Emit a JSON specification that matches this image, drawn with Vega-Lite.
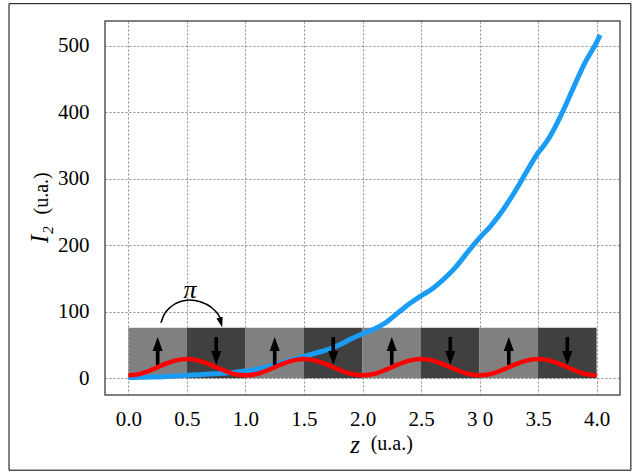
{
  "$schema": "https://vega.github.io/schema/vega-lite/v6.json",
  "width": 515,
  "height": 374,
  "autosize": "none",
  "padding": {"left": 105, "top": 21, "right": 15, "bottom": 78},
  "background": "white",
  "config": {
    "view": {"stroke": "#555555", "strokeWidth": 1.5},
    "font": "Liberation Serif"
  },
  "datasets": {
    "segments": [
      {"z0": 0.0, "z1": 0.5, "zc": 0.25, "spin": "up"},
      {"z0": 0.5, "z1": 1.0, "zc": 0.75, "spin": "down"},
      {"z0": 1.0, "z1": 1.5, "zc": 1.25, "spin": "up"},
      {"z0": 1.5, "z1": 2.0, "zc": 1.75, "spin": "down"},
      {"z0": 2.0, "z1": 2.5, "zc": 2.25, "spin": "up"},
      {"z0": 2.5, "z1": 3.0, "zc": 2.75, "spin": "down"},
      {"z0": 3.0, "z1": 3.5, "zc": 3.25, "spin": "up"},
      {"z0": 3.5, "z1": 4.0, "zc": 3.75, "spin": "down"}
    ],
    "red": [
      {"z": 0.0, "v": 4.5}, {"z": 0.1, "v": 6.8}, {"z": 0.2, "v": 13.0}, {"z": 0.3, "v": 20.5}, {"z": 0.4, "v": 26.7},
      {"z": 0.5, "v": 29.0}, {"z": 0.6, "v": 26.7}, {"z": 0.7, "v": 20.5}, {"z": 0.8, "v": 13.0}, {"z": 0.9, "v": 6.8},
      {"z": 1.0, "v": 4.5}, {"z": 1.1, "v": 6.8}, {"z": 1.2, "v": 13.0}, {"z": 1.3, "v": 20.5}, {"z": 1.4, "v": 26.7},
      {"z": 1.5, "v": 29.0}, {"z": 1.6, "v": 26.7}, {"z": 1.7, "v": 20.5}, {"z": 1.8, "v": 13.0}, {"z": 1.9, "v": 6.8},
      {"z": 2.0, "v": 4.5}, {"z": 2.1, "v": 6.8}, {"z": 2.2, "v": 13.0}, {"z": 2.3, "v": 20.5}, {"z": 2.4, "v": 26.7},
      {"z": 2.5, "v": 29.0}, {"z": 2.6, "v": 26.7}, {"z": 2.7, "v": 20.5}, {"z": 2.8, "v": 13.0}, {"z": 2.9, "v": 6.8},
      {"z": 3.0, "v": 4.5}, {"z": 3.1, "v": 6.8}, {"z": 3.2, "v": 13.0}, {"z": 3.3, "v": 20.5}, {"z": 3.4, "v": 26.7},
      {"z": 3.5, "v": 29.0}, {"z": 3.6, "v": 26.7}, {"z": 3.7, "v": 20.5}, {"z": 3.8, "v": 13.0}, {"z": 3.9, "v": 6.8},
      {"z": 4.0, "v": 4.5}
    ],
    "blue": [
      {"z": 0.0, "v": 1}, {"z": 0.1, "v": 1.5}, {"z": 0.2, "v": 2}, {"z": 0.3, "v": 2.5}, {"z": 0.4, "v": 3.5},
      {"z": 0.5, "v": 4.5}, {"z": 0.6, "v": 5.5}, {"z": 0.7, "v": 6.5}, {"z": 0.8, "v": 7.5}, {"z": 0.9, "v": 9},
      {"z": 1.0, "v": 11}, {"z": 1.1, "v": 14}, {"z": 1.2, "v": 18}, {"z": 1.3, "v": 23}, {"z": 1.4, "v": 28},
      {"z": 1.5, "v": 33}, {"z": 1.6, "v": 38}, {"z": 1.7, "v": 43}, {"z": 1.8, "v": 50}, {"z": 1.9, "v": 59},
      {"z": 2.0, "v": 67}, {"z": 2.1, "v": 74}, {"z": 2.2, "v": 84}, {"z": 2.3, "v": 98}, {"z": 2.4, "v": 112},
      {"z": 2.5, "v": 124}, {"z": 2.6, "v": 135}, {"z": 2.7, "v": 150}, {"z": 2.8, "v": 168}, {"z": 2.9, "v": 190},
      {"z": 3.0, "v": 211}, {"z": 3.1, "v": 230}, {"z": 3.2, "v": 253}, {"z": 3.3, "v": 280}, {"z": 3.4, "v": 310},
      {"z": 3.45, "v": 325}, {"z": 3.5, "v": 339}, {"z": 3.55, "v": 350}, {"z": 3.6, "v": 363}, {"z": 3.65, "v": 379},
      {"z": 3.7, "v": 397}, {"z": 3.8, "v": 436}, {"z": 3.9, "v": 474},
      {"z": 4.0, "v": 505}, {"z": 4.03, "v": 516}
    ],
    "arc": [
      {"z": 0.278, "v": 83.7}, {"z": 0.304, "v": 95.3}, {"z": 0.361, "v": 107.3}, {"z": 0.438, "v": 115.1},
      {"z": 0.526, "v": 117.8}, {"z": 0.614, "v": 115.1}, {"z": 0.706, "v": 107.0}, {"z": 0.765, "v": 96.5},
      {"z": 0.787, "v": 90.0}
    ]
  },
  "layer": [
    {
      "data": {"values": [{}]},
      "mark": {"type": "rect", "fill": null, "stroke": "black", "strokeWidth": 1, "clip": false},
      "encoding": {
        "x": {
          "datum": -1.02, "type": "quantitative",
          "scale": {"domain": [-0.2, 4.2], "nice": false, "zero": false},
          "axis": {
            "title": null, "values": [0, 0.5, 1, 1.5, 2, 2.5, 3, 3.5, 4],
            "labelExpr": "datum.value == 3 ? '3 0' : format(datum.value, '.1f')",
            "labelFont": "Liberation Serif", "labelFontSize": 21, "labelColor": "black",
            "labelPadding": 13, "ticks": false, "domain": false, "labelOverlap": false, "labelFlush": false,
            "grid": true, "gridDash": [2, 2], "gridColor": "#6e6e6e", "gridWidth": 0.8
          }
        },
        "x2": {"datum": 4.293},
        "y": {
          "datum": 563, "type": "quantitative",
          "scale": {"domain": [-25, 537], "nice": false, "zero": false},
          "axis": {
            "title": null, "values": [0, 100, 200, 300, 400, 500],
            "labelFont": "Liberation Serif", "labelFontSize": 21, "labelColor": "black",
            "labelPadding": 16, "ticks": false, "domain": false, "labelOverlap": false,
            "grid": true, "gridDash": [2, 2], "gridColor": "#6e6e6e", "gridWidth": 0.8
          }
        },
        "y2": {"datum": -138}
      }
    },
    {
      "data": {"name": "segments"},
      "mark": {"type": "rect", "strokeWidth": 0},
      "encoding": {
        "x": {"field": "z0", "type": "quantitative", "title": null},
        "x2": {"field": "z1"},
        "y": {"datum": 0, "type": "quantitative", "title": null},
        "y2": {"datum": 76},
        "color": {"field": "spin", "type": "nominal", "scale": {"domain": ["up", "down"], "range": ["#808080", "#404040"]}, "legend": null}
      }
    },
    {
      "data": {"name": "blue"},
      "mark": {"type": "line", "color": "#1a9cf5", "strokeWidth": 5, "interpolate": "monotone"},
      "encoding": {
        "x": {"field": "z", "type": "quantitative", "title": null},
        "y": {"field": "v", "type": "quantitative", "title": null}
      }
    },
    {
      "data": {"name": "segments"},
      "mark": {"type": "point", "filled": true, "color": "black", "opacity": 1, "size": 784, "strokeWidth": 0},
      "encoding": {
        "x": {"field": "zc", "type": "quantitative", "title": null},
        "y": {"datum": 41, "type": "quantitative", "title": null},
        "shape": {
          "field": "spin", "type": "nominal",
          "scale": {"domain": ["up", "down"], "range": ["M-0.13,1L-0.13,0L-0.36,0L0,-1L0.36,0L0.13,0L0.13,1Z", "M-0.13,-1L-0.13,0L-0.36,0L0,1L0.36,0L0.13,0L0.13,-1Z"]},
          "legend": null
        }
      }
    },
    {
      "data": {"name": "red"},
      "mark": {"type": "line", "color": "#ff0000", "strokeWidth": 4.5, "interpolate": "monotone"},
      "encoding": {
        "x": {"field": "z", "type": "quantitative", "title": null},
        "y": {"field": "v", "type": "quantitative", "title": null}
      }
    },
    {
      "data": {"name": "arc"},
      "mark": {"type": "line", "color": "black", "strokeWidth": 1.5, "interpolate": "monotone"},
      "encoding": {
        "x": {"field": "z", "type": "quantitative", "title": null},
        "y": {"field": "v", "type": "quantitative", "title": null}
      }
    },
    {
      "data": {"values": [{}]},
      "mark": {"type": "point", "filled": true, "color": "black", "opacity": 1, "size": 100, "strokeWidth": 0, "shape": "M-0.65,-1L0.65,-1L0,1Z", "angle": -15},
      "encoding": {
        "x": {"datum": 0.79, "type": "quantitative"},
        "y": {"datum": 84, "type": "quantitative"}
      }
    },
    {
      "data": {"values": [{}]},
      "mark": {"type": "text", "text": "π", "font": "Liberation Serif", "fontStyle": "italic", "fontSize": 26, "align": "center", "baseline": "middle", "color": "black"},
      "encoding": {
        "x": {"datum": 0.526, "type": "quantitative"},
        "y": {"datum": 133, "type": "quantitative"}
      }
    },
    {
      "data": {"values": [{}]},
      "mark": {"type": "text", "text": "z", "font": "Liberation Serif", "fontStyle": "italic", "fontSize": 25, "align": "center", "baseline": "middle", "color": "black"},
      "encoding": {
        "x": {"datum": 1.936, "type": "quantitative"},
        "y": {"datum": -100, "type": "quantitative"}
      }
    },
    {
      "data": {"values": [{}]},
      "mark": {"type": "text", "text": "(u.a.)", "font": "Liberation Serif", "fontSize": 20, "align": "left", "baseline": "middle", "color": "black"},
      "encoding": {
        "x": {"datum": 2.07, "type": "quantitative"},
        "y": {"datum": -99, "type": "quantitative"}
      }
    },
    {
      "data": {"values": [{}]},
      "mark": {"type": "text", "text": "I₂", "font": "Liberation Serif", "fontStyle": "italic", "fontSize": 25, "align": "center", "baseline": "middle", "angle": 270, "color": "black"},
      "encoding": {
        "x": {"datum": -0.755, "type": "quantitative"},
        "y": {"datum": 216, "type": "quantitative"}
      }
    },
    {
      "data": {"values": [{}]},
      "mark": {"type": "text", "text": "(u.a.)", "font": "Liberation Serif", "fontSize": 20, "align": "center", "baseline": "middle", "angle": 270, "color": "black"},
      "encoding": {
        "x": {"datum": -0.735, "type": "quantitative"},
        "y": {"datum": 278, "type": "quantitative"}
      }
    }
  ]
}
